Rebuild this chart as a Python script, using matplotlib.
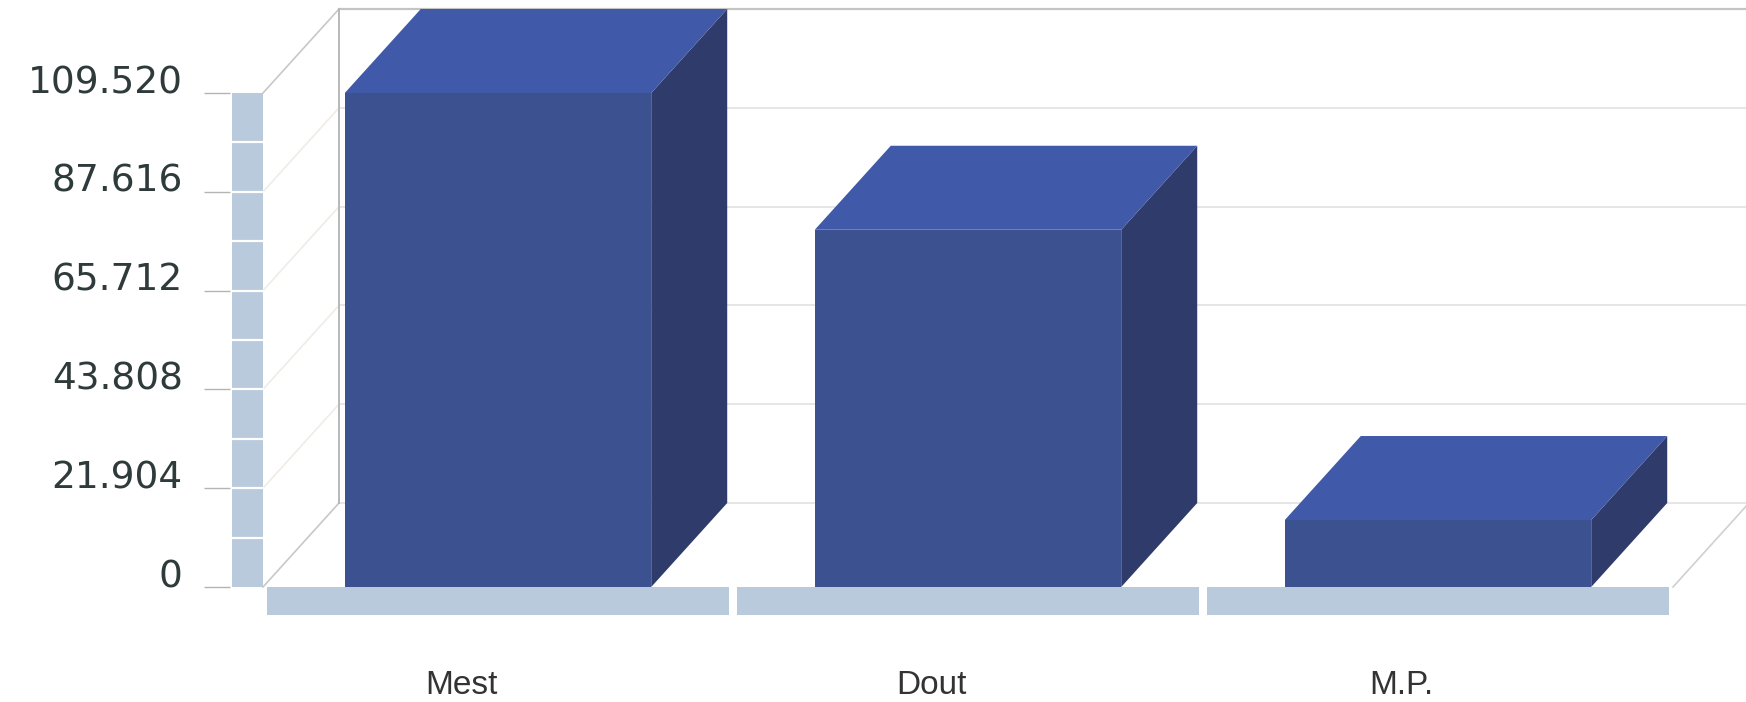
import matplotlib
matplotlib.use('Agg')
import matplotlib.pyplot as plt
from matplotlib.patches import Polygon, Rectangle
from matplotlib.transforms import offset_copy

# data
categories = ['Mest', 'Dout', 'M.P.']
values = [109.52, 79.2, 14.85]
y_ticks = [0, 21.904, 43.808, 65.712, 87.616, 109.520]
y_labels = ['0', '21.904', '43.808', '65.712', '87.616', '109.520']
y_max = 109.520

# look of the pseudo-3d box (in data units)
W, H = 1746, 702
DX = 76 / 470            # depth offset along x (categories)
DY = 84 * y_max / 494    # depth offset along y (values)
BAR_W = 0.652
SIDE_W = 0.066
FLOOR_H = 28 * y_max / 494
GAP = 0.009

FRONT = '#3b5190'
TOP = '#4059a8'
SIDE = '#2f3c6b'
STRIP = '#b9cadd'

fig = plt.figure(figsize=(W / 100, H / 100), dpi=100)
ax = fig.add_axes([263 / W, (H - 587) / H, 1410 / W, 494 / H])
ax.set_xlim(-0.5, len(categories) - 0.5)
ax.set_ylim(0, y_max)
x_left, x_right = -0.5, len(categories) - 0.5

# back wall: grid lines, left edge, diagonals of the side wall
for v in y_ticks:
    top = v == y_ticks[-1]
    ax.plot([x_left + DX, x_right + DX], [v + DY, v + DY],
            color='#c4c4c4' if top else '#e2e2e2', lw=1.6 if top else 1.2,
            clip_on=False, zorder=1)
    edge = v in (y_ticks[0], y_ticks[-1])
    ax.plot([x_left, x_left + DX], [v, v + DY],
            color='#c8c8c8' if edge else '#f0ece6', lw=1.2,
            clip_on=False, zorder=1)
ax.plot([x_left + DX, x_left + DX], [DY, y_max + DY], color='#b8b8b8', lw=1.4,
        clip_on=False, zorder=1)
ax.plot([x_right, x_right + DX], [0, DY], color='#d0d0d0', lw=1.2,
        clip_on=False, zorder=1)

# side strip with white minor marks
ax.add_patch(Rectangle((x_left - SIDE_W, 0), SIDE_W, y_max, facecolor=STRIP,
                       edgecolor='none', clip_on=False, zorder=2))
step = y_ticks[1] / 2
for k in range(1, 10):
    ax.plot([x_left - SIDE_W, x_left], [k * step, k * step], color='white',
            lw=1.6, clip_on=False, zorder=2)

# floor strips under each category
for i in range(len(categories)):
    ax.add_patch(Rectangle((i - 0.5 + GAP, -FLOOR_H), 1 - 2 * GAP, FLOOR_H,
                           facecolor=STRIP, edgecolor='none', clip_on=False,
                           zorder=2))

# the bars
for i, v in enumerate(values):
    x0, x1 = i - BAR_W / 2, i + BAR_W / 2
    ax.add_patch(Polygon([(x1, 0), (x1 + DX, DY), (x1 + DX, v + DY), (x1, v)],
                         closed=True, facecolor=SIDE, edgecolor='none',
                         clip_on=False, zorder=3))
    ax.add_patch(Polygon([(x0, v), (x1, v), (x1 + DX, v + DY), (x0 + DX, v + DY)],
                         closed=True, facecolor=TOP, edgecolor='none',
                         clip_on=False, zorder=3))
    ax.add_patch(Rectangle((x0, 0), BAR_W, v, facecolor=FRONT,
                           edgecolor='none', clip_on=False, zorder=4))

# y axis ticks and labels (outward offset is in points: 33 px)
for s in ax.spines.values():
    s.set_visible(False)
ax.spines['left'].set_position(('outward', 33 * 0.72))
ax.set_yticks(y_ticks, y_labels, va='baseline')
ax.tick_params(axis='y', length=19, width=1, color='#b4b4b4', pad=15,
               labelsize=27, labelcolor='#2f3a3a')
ax.set_xticks([])

# category labels, a bit left of the bar centres
lab_tr = offset_copy(ax.get_xaxis_transform(), fig=fig, x=-37, y=-98, units='dots')
for i, c in enumerate(categories):
    ax.text(i, 0, c, transform=lab_tr, ha='center', va='center', fontsize=24,
            family='Liberation Sans', color='#333333')

fig.savefig('out.png', dpi=100, facecolor='white')
